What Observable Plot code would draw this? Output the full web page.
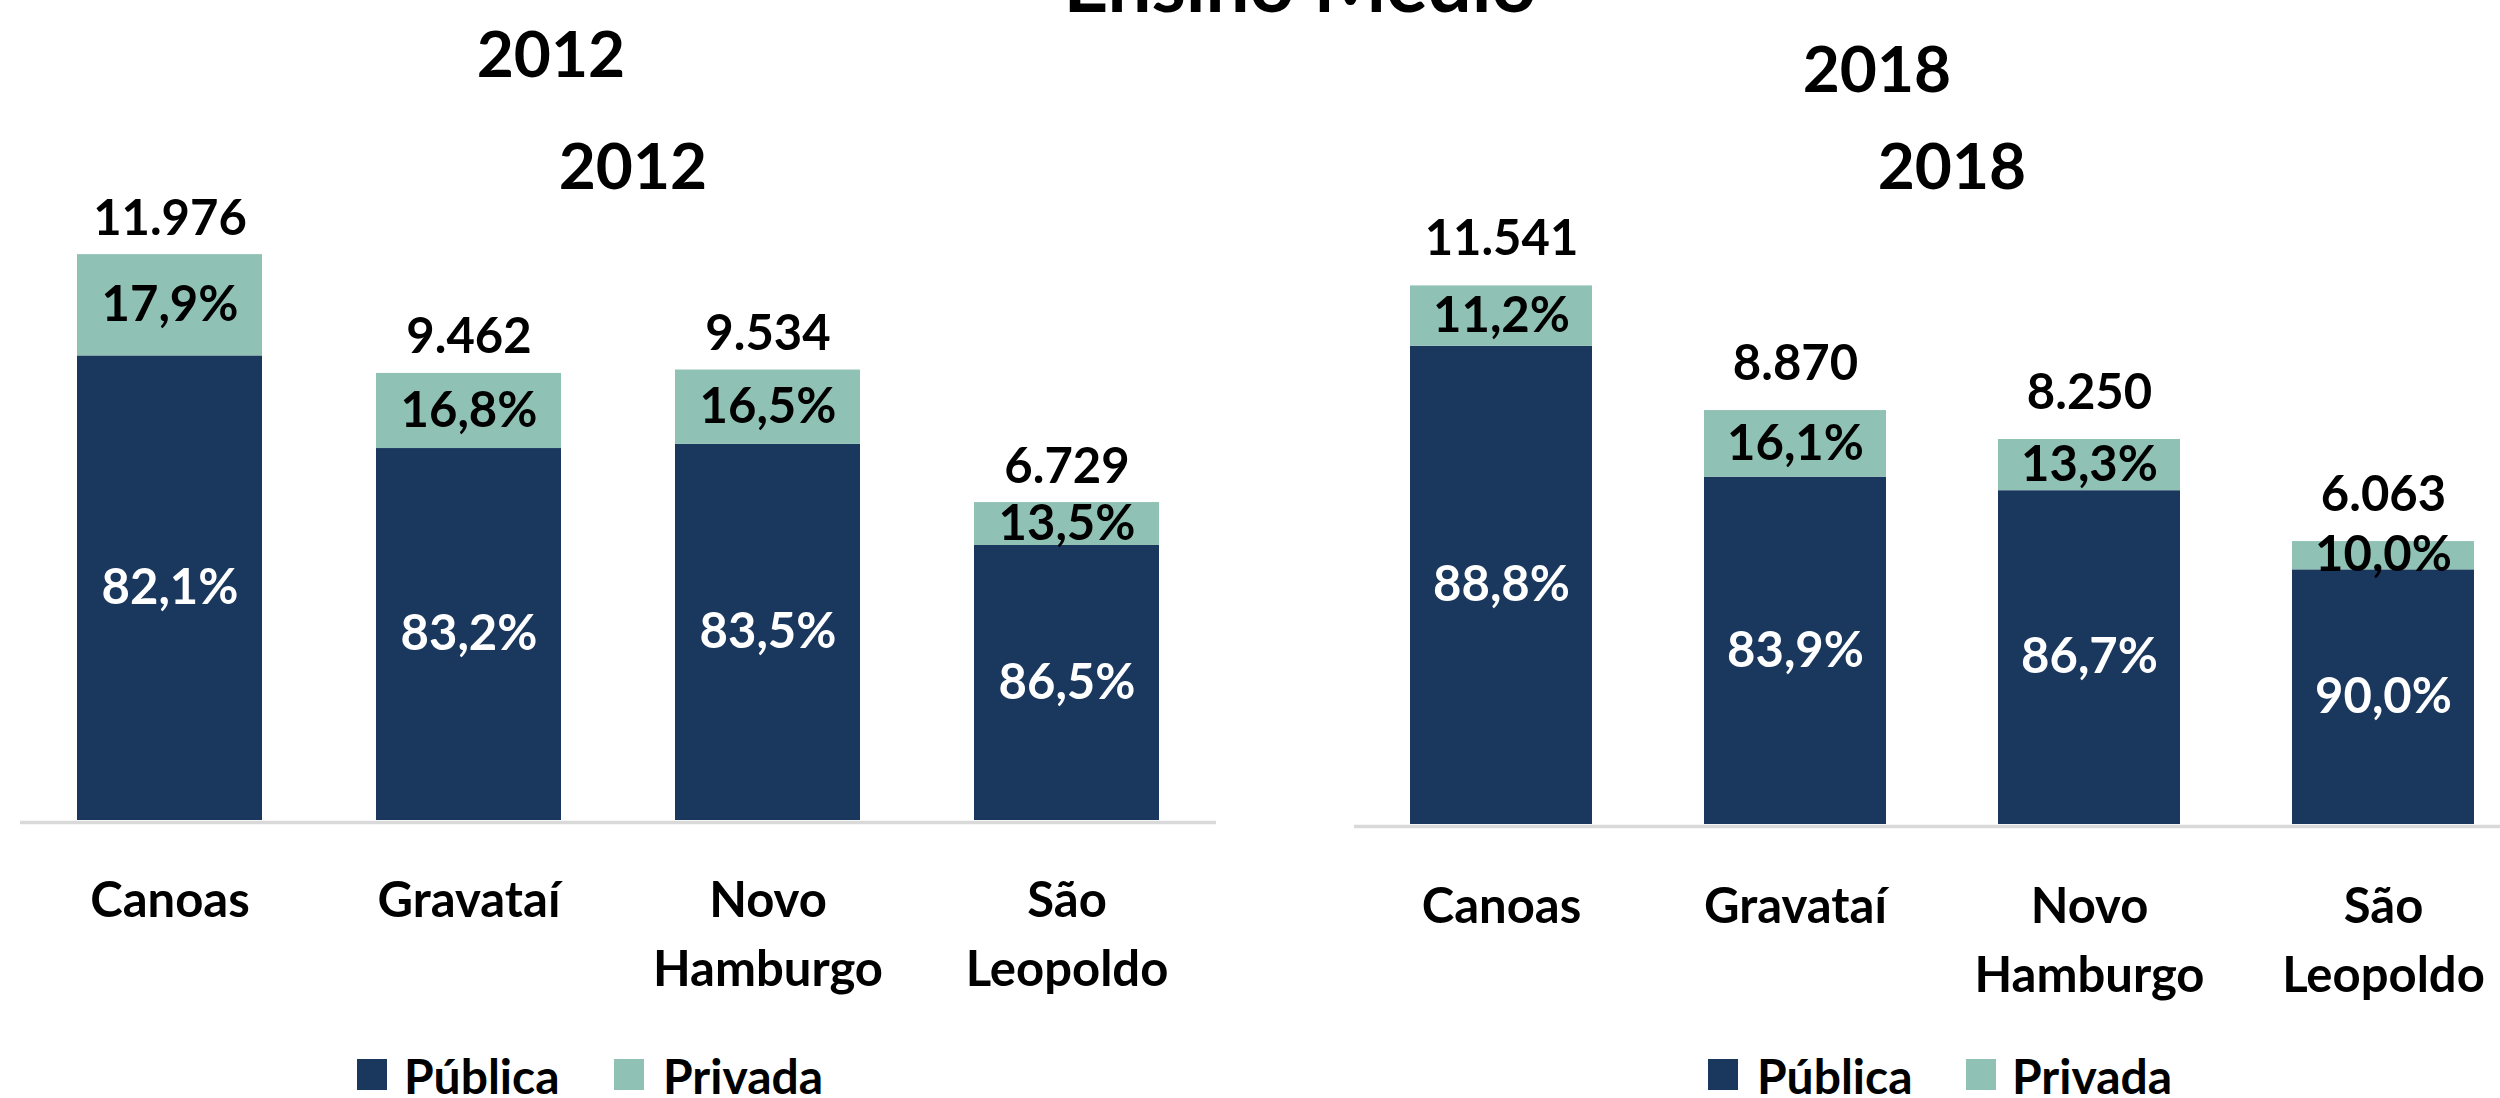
<!DOCTYPE html>
<html><head><meta charset="utf-8">
<script src="https://cdn.jsdelivr.net/npm/d3@7"></script>
<script src="https://cdn.jsdelivr.net/npm/@observablehq/plot@0.6"></script>
<style>
html,body{margin:0;padding:0;background:#fff;}
#root{position:relative;width:2500px;height:1098px;overflow:hidden;font-family:Lato,"Open Sans",sans-serif;}
.panel{position:absolute;top:0;}
#overlay{position:absolute;left:0;top:0;}
</style></head><body><div id="root"></div>
<script>
const categories = ["Canoas", "Gravataí", "Novo Hamburgo", "São Leopoldo"];
const series = ["Pública", "Privada"];
const total2012 = [11976, 9462, 9534, 6729];
const publica2012 = [82.1, 83.2, 83.5, 86.5];
const privada2012 = [17.9, 16.8, 16.5, 13.5];
const total2018 = [11541, 8870, 8250, 6063];
const publica2018 = [88.8, 83.9, 86.7, 90.0];
const privada2018 = [11.2, 16.1, 13.3, 10.0];
const colors = ["#1a375e", "#8fc1b4"];
const mainTitle = "Ensino Médio";

const br = d3.formatLocale({decimal: ",", thousands: ".", grouping: [3], currency: ["R$", ""]});
const fmtInt = br.format(",d");
const fmt1 = br.format(".1f");
const fmtPct = v => fmt1(v) + "%";
const FONT = "Lato, 'Open Sans', sans-serif";

function rows(total, pub, priv) {
  const out = [];
  categories.forEach((c, i) => {
    const pv = total[i] * pub[i] / 100;
    const rv = total[i] * priv[i] / 100;
    out.push({cat: c, type: "Pública", pct: pub[i], value: pv, mid: pv / 2});
    out.push({cat: c, type: "Privada", pct: priv[i], value: rv, mid: pv + rv / 2});
  });
  return out;
}

function panel(o) {
  const data = rows(o.total, o.pub, o.priv);
  const totals = categories.map((c, i) => ({cat: c, total: o.total[i]}));
  const chart = Plot.plot({
    width: 1300, height: 1098,
    marginLeft: o.marginLeft, marginRight: o.marginRight,
    marginTop: o.marginTop, marginBottom: o.marginBottom,
    style: {fontFamily: FONT, background: "transparent", overflow: "visible", color: "black"},
    x: {domain: categories, paddingInner: 0.38, paddingOuter: 0.19},
    y: {domain: [0, 12000], axis: null},
    color: {domain: series, range: colors},
    marks: [
      Plot.barY(data, {x: "cat", y: "value", fill: "type"}),
      Plot.ruleY([0], {stroke: "#d9d9d9", strokeWidth: 3.5, dy: 2}),
      Plot.text(data.filter(d => d.type === "Pública"), {x: "cat", y: "mid", text: d => fmtPct(d.pct), fill: "white", fontSize: 49, fontWeight: "bold"}),
      Plot.text(data.filter(d => d.type === "Privada"), {x: "cat", y: "mid", text: d => fmtPct(d.pct), fill: "black", fontSize: 49, fontWeight: "bold"}),
      Plot.text(totals, {x: "cat", y: "total", text: d => fmtInt(d.total), lineAnchor: "bottom", dy: o.totalDy, fontSize: 49, fontWeight: "bold", fill: "black"}),
      Plot.axisX({tickSize: 0, tickPadding: o.tickPadding, fontSize: 49, fontWeight: "bold", lineHeight: 1.4, tickFormat: d => d.replace(" ", "\n"), label: null, fill: "black"})
    ]
  });
  chart.classList.add("panel");
  chart.style.left = o.left + "px";
  document.getElementById("root").appendChild(chart);
}

panel({total: total2012, pub: publica2012, priv: privada2012, left: 0,
  marginLeft: 20, marginRight: 84, marginTop: 253, marginBottom: 278, totalDy: -20, tickPadding: 48});
panel({total: total2018, pub: publica2018, priv: privada2018, left: 1300,
  marginLeft: 54, marginRight: 70, marginTop: 264, marginBottom: 274, totalDy: -31, tickPadding: 50});

// titles and legends
const svg = d3.select("#root").append("svg").attr("id", "overlay")
  .attr("width", 2500).attr("height", 1098)
  .style("font-family", FONT).style("font-weight", "bold");
const titles = [
  {t: mainTitle, x: 1300, y: 12, s: 78},
  {t: "2012", x: 551, y: 77, s: 64},
  {t: "2012", x: 633, y: 189, s: 64},
  {t: "2018", x: 1877, y: 92, s: 64},
  {t: "2018", x: 1952, y: 189, s: 64}
];
svg.selectAll("text.title").data(titles).join("text").attr("class", "title")
  .attr("x", d => d.x).attr("y", d => d.y).attr("text-anchor", "middle")
  .attr("font-size", d => d.s).attr("fill", "black").text(d => d.t);

const legends = [
  {x: 357, tx: 404, k: 0}, {x: 614, tx: 663, k: 1},
  {x: 1708, tx: 1757, k: 0}, {x: 1966, tx: 2012, k: 1}
];
const lg = svg.selectAll("g.lg").data(legends).join("g").attr("class", "lg");
lg.append("rect").attr("x", d => d.x).attr("y", 1059).attr("width", 30).attr("height", 31).attr("fill", d => colors[d.k]);
lg.append("text").attr("x", d => d.tx).attr("y", 1094).attr("font-size", 48).attr("fill", "black").text(d => series[d.k]);
</script>
</body></html>
